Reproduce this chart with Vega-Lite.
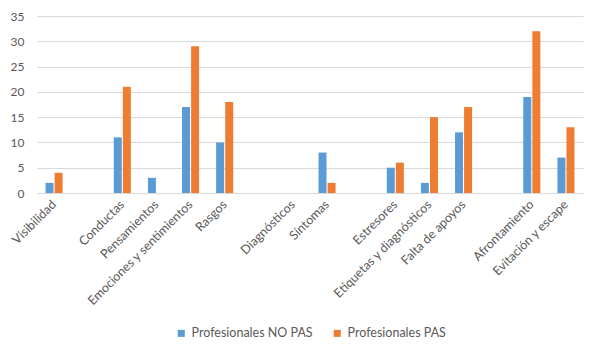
{
  "$schema": "https://vega.github.io/schema/vega-lite/v6.json",
  "width": 546,
  "height": 177,
  "autosize": {"type": "none"},
  "padding": {"left": 37, "top": 16, "right": 17, "bottom": 163},
  "background": "white",
  "config": {
    "font": "Lato",
    "view": {"stroke": null},
    "axis": {"labelFont": "Lato", "labelColor": "#595959", "labelFontSize": 12}
  },
  "data": {
    "values": [
      {"categoria": "Visibilidad", "grupo": "Profesionales NO PAS", "valor": 2},
      {"categoria": "Visibilidad", "grupo": "Profesionales PAS", "valor": 4},
      {"categoria": "Conductas", "grupo": "Profesionales NO PAS", "valor": 11},
      {"categoria": "Conductas", "grupo": "Profesionales PAS", "valor": 21},
      {"categoria": "Pensamientos", "grupo": "Profesionales NO PAS", "valor": 3},
      {"categoria": "Pensamientos", "grupo": "Profesionales PAS", "valor": 0},
      {"categoria": "Emociones y sentimientos", "grupo": "Profesionales NO PAS", "valor": 17},
      {"categoria": "Emociones y sentimientos", "grupo": "Profesionales PAS", "valor": 29},
      {"categoria": "Rasgos", "grupo": "Profesionales NO PAS", "valor": 10},
      {"categoria": "Rasgos", "grupo": "Profesionales PAS", "valor": 18},
      {"categoria": "Diagnósticos", "grupo": "Profesionales NO PAS", "valor": 0},
      {"categoria": "Diagnósticos", "grupo": "Profesionales PAS", "valor": 0},
      {"categoria": "Síntomas", "grupo": "Profesionales NO PAS", "valor": 8},
      {"categoria": "Síntomas", "grupo": "Profesionales PAS", "valor": 2},
      {"categoria": "Estresores", "grupo": "Profesionales NO PAS", "valor": 5},
      {"categoria": "Estresores", "grupo": "Profesionales PAS", "valor": 6},
      {"categoria": "Etiquetas y diagnósticos", "grupo": "Profesionales NO PAS", "valor": 2},
      {"categoria": "Etiquetas y diagnósticos", "grupo": "Profesionales PAS", "valor": 15},
      {"categoria": "Falta de apoyos", "grupo": "Profesionales NO PAS", "valor": 12},
      {"categoria": "Falta de apoyos", "grupo": "Profesionales PAS", "valor": 17},
      {"categoria": "Afrontamiento", "grupo": "Profesionales NO PAS", "valor": 19},
      {"categoria": "Afrontamiento", "grupo": "Profesionales PAS", "valor": 32},
      {"categoria": "Evitación y escape", "grupo": "Profesionales NO PAS", "valor": 7},
      {"categoria": "Evitación y escape", "grupo": "Profesionales PAS", "valor": 13}
    ]
  },
  "mark": {"type": "bar"},
  "encoding": {
    "x": {
      "field": "categoria",
      "type": "nominal",
      "title": null,
      "scale": {
        "domain": ["Visibilidad", " ", "Conductas", "Pensamientos", "Emociones y sentimientos", "Rasgos", "  ", "Diagnósticos", "Síntomas", "   ", "Estresores", "Etiquetas y diagnósticos", "Falta de apoyos", "    ", "Afrontamiento", "Evitación y escape"],
        "paddingInner": 0.5,
        "paddingOuter": 0.25
      },
      "axis": {
        "labelAngle": -45,
        "labelAlign": "right",
        "labelBaseline": "middle",
        "labelPadding": 9,
        "labelFontSize": 12.5,
        "ticks": false,
        "domainColor": "#D9D9D9",
        "labelOverlap": false
      }
    },
    "xOffset": {
      "field": "grupo",
      "type": "nominal",
      "scale": {"paddingInner": 0.12, "domain": ["Profesionales NO PAS", "Profesionales PAS"]}
    },
    "y": {
      "field": "valor",
      "type": "quantitative",
      "title": null,
      "scale": {"domain": [0, 35], "nice": false},
      "axis": {
        "values": [0, 5, 10, 15, 20, 25, 30, 35],
        "domain": false,
        "ticks": false,
        "labelPadding": 13,
        "gridColor": "#D9D9D9"
      }
    },
    "color": {
      "field": "grupo",
      "type": "nominal",
      "scale": {"domain": ["Profesionales NO PAS", "Profesionales PAS"], "range": ["#5B9BD5", "#ED7D31"]},
      "legend": {
        "title": null,
        "orient": "none",
        "legendX": 138,
        "legendY": 311,
        "direction": "horizontal",
        "symbolType": "square",
        "symbolSize": 50,
        "symbolStrokeWidth": 0,
        "labelFontSize": 12.5,
        "labelColor": "#595959",
        "labelFont": "Lato",
        "columnPadding": 18,
        "symbolOffset": 0
      }
    }
  }
}
